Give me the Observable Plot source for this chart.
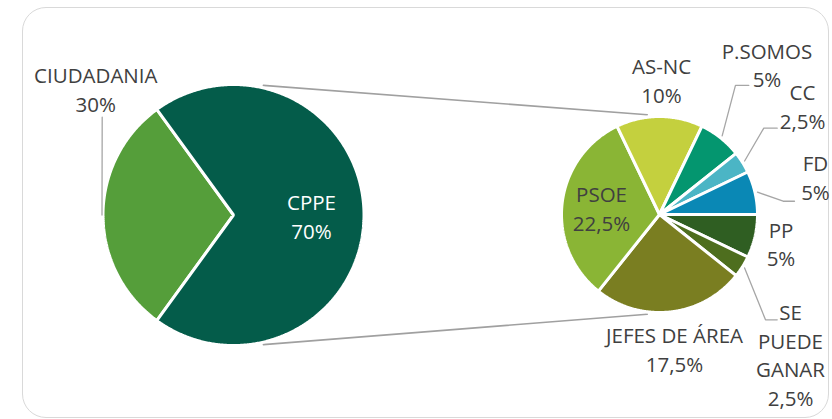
<!DOCTYPE html>
<html><head><meta charset="utf-8">
<script src="https://cdn.jsdelivr.net/npm/d3@7"></script>
<script src="https://cdn.jsdelivr.net/npm/@observablehq/plot@0.6"></script>
<style>
html,body{margin:0;padding:0;background:#fff;}
#wrap{position:relative;width:832px;height:419px;overflow:hidden;}
#frame{position:absolute;left:22px;top:7px;width:807px;height:411px;border:1.5px solid #d9d9d9;border-radius:24px;box-sizing:border-box;pointer-events:none;}
#wrap svg{position:absolute;left:0;top:0;}
</style></head><body><div id="wrap"><div id="frame"></div></div>
<script>
// ---- Data ----
const mainCategories = ["CIUDADANIA", "CPPE"];
const mainValues = [30, 70];
const secondCategories = ["PP", "SE PUEDE GANAR", "JEFES DE ÁREA", "PSOE", "AS-NC", "P.SOMOS", "CC", "FD"];
const secondValues = [5, 2.5, 17.5, 22.5, 10, 5, 2.5, 5];

// ---- Styles ----
const mainColors = ["#559e3a", "#045c4a"];
const secondColors = ["#2f5e22", "#4e6e1e", "#7a7e21", "#8ab535", "#c4d03e", "#04966f", "#4bb5c5", "#0a88b5"];
const textColor = "#404040";
const FS = 20.5, LH = 1.4;

// ---- Layout ----
const MAIN = {cx: 233, cy: 214.5, r: 130.5};
const SECOND = {cx: 659, cy: 214, r: 98};
const STROKE = 3;
// label anchor offsets (first baseline centre) relative to slice mid-angle point on the rim
const labelLayout = {
  "CIUDADANIA": {dx: -8.7, dy: -132.2, leader: [[6.4, 34.4]], lr: 2.5},
  "CPPE": {dx: -51, dy: -5.2, fill: "#ffffff"},
  "PP": {dx: 27.4, dy: 1.8},
  "SE PUEDE GANAR": {dx: 49.3, dy: 54, wrap: true, leader: [[-25, 0], [-13.3, 0]], lr: 4},
  "JEFES DE ÁREA": {dx: 4.2, dy: 32.8},
  "PSOE": {dx: 37.9, dy: -1.5},
  "AS-NC": {dx: 2, dy: -44.2},
  "P.SOMOS": {dx: 47.3, dy: -80.3, leader: [[-31.5, 26.7], [-18.2, 26.7]], lr: 4},
  "CC": {dx: 61.3, dy: -62.7, leader: [[-38.7, 27.7], [-25.3, 27.7]], lr: 4},
  "FD": {dx: 61.9, dy: -21.8, leader: [[-32.3, 30], [-21, 30]], lr: 4}
};
const connectorAngles = {main: 13, second: -7, gap: 4}; // degrees from top

const deg = Math.PI / 180;
const pt = (c, R, a) => [c.cx + R * Math.sin(a), c.cy - R * Math.cos(a)];
const fmtPct = v => String(v).replace(".", ",") + "%";

// main pie: first slice (CIUDADANIA) centred on the left
const mainTotal = d3.sum(mainValues);
const mainStart = 1.5 * Math.PI - (mainValues[0] / mainTotal) * Math.PI;
const mainArcs = d3.pie().sort(null).startAngle(mainStart).endAngle(mainStart + 2 * Math.PI)(mainValues);
// second pie: first slice starts at 3 o'clock
const secondArcs = d3.pie().sort(null).startAngle(Math.PI / 2).endAngle(Math.PI / 2 + 2 * Math.PI)(secondValues);

const slices = [
  ...mainArcs.map((a, i) => ({name: mainCategories[i], value: mainValues[i], color: mainColors[i], arc: a, pie: MAIN})),
  ...secondArcs.map((a, i) => ({name: secondCategories[i], value: secondValues[i], color: secondColors[i], arc: a, pie: SECOND}))
];

const slicePoints = [];
for (const s of slices) {
  const {cx, cy, r} = s.pie;
  slicePoints.push({name: s.name, color: s.color, x: cx, y: cy});
  const n = Math.max(2, Math.ceil((s.arc.endAngle - s.arc.startAngle) / (0.5 * deg)));
  for (let k = 0; k <= n; k++) {
    const a = s.arc.startAngle + (s.arc.endAngle - s.arc.startAngle) * k / n;
    const [x, y] = pt(s.pie, r, a);
    slicePoints.push({name: s.name, color: s.color, x, y});
  }
}

const labels = [], leaders = [];
for (const s of slices) {
  const L = labelLayout[s.name];
  const mid = (s.arc.startAngle + s.arc.endAngle) / 2;
  const rv = s.pie.r - STROKE / 2;
  const [mx, my] = pt(s.pie, rv, mid);
  const ax = mx + L.dx, ay = my + L.dy;
  const nameLines = L.wrap ? s.name.split(" ") : [s.name];
  const lines = [...nameLines, fmtPct(s.value)];
  labels.push({x: ax, y: ay + (lines.length - 1) * LH * FS, text: lines.join("\n"), fill: L.fill || textColor});
  if (L.leader) {
    const [sx, sy] = pt(s.pie, rv + L.lr, mid);
    leaders.push({id: s.name, x: sx, y: sy});
    for (const [ox, oy] of L.leader) leaders.push({id: s.name, x: ax + ox, y: ay + oy});
  }
}

const connectors = [];
for (const side of [0, 1]) {
  const a1 = (side ? 180 - connectorAngles.main : connectorAngles.main) * deg;
  const a2 = (side ? 180 - connectorAngles.second : connectorAngles.second) * deg;
  const [x1, y1] = pt(MAIN, MAIN.r - STROKE / 2 + connectorAngles.gap, a1);
  const [x2, y2] = pt(SECOND, SECOND.r - STROKE / 2 + connectorAngles.gap, a2);
  connectors.push({id: side, x: x1, y: y1}, {id: side, x: x2, y: y2});
}

const chart = Plot.plot({
  width: 832, height: 419,
  margin: 0,
  x: {domain: [0, 832], range: [0, 832], axis: null},
  y: {domain: [0, 419], range: [0, 419], axis: null},
  color: {type: "identity"},
  style: {background: "transparent", fontFamily: "'Open Sans', sans-serif"},
  marks: [
    Plot.line(connectors, {x: "x", y: "y", z: "id", stroke: "#a0a0a0", strokeWidth: 1.6}),
    Plot.line(slicePoints, {x: "x", y: "y", z: "name", fill: d => d.color, stroke: "#ffffff", strokeWidth: STROKE, curve: "linear-closed", strokeLinejoin: "miter"}),
    Plot.line(leaders, {x: "x", y: "y", z: "id", stroke: "#a6a6a6", strokeWidth: 1.3, strokeLinejoin: "miter"}),
    Plot.text(labels, {x: "x", y: "y", text: "text", fill: "fill", fontSize: FS, lineHeight: LH, lineAnchor: "bottom", textAnchor: "middle", fontFamily: "'Open Sans', sans-serif"})
  ]
});
document.getElementById("wrap").appendChild(chart);
</script>
</body></html>
